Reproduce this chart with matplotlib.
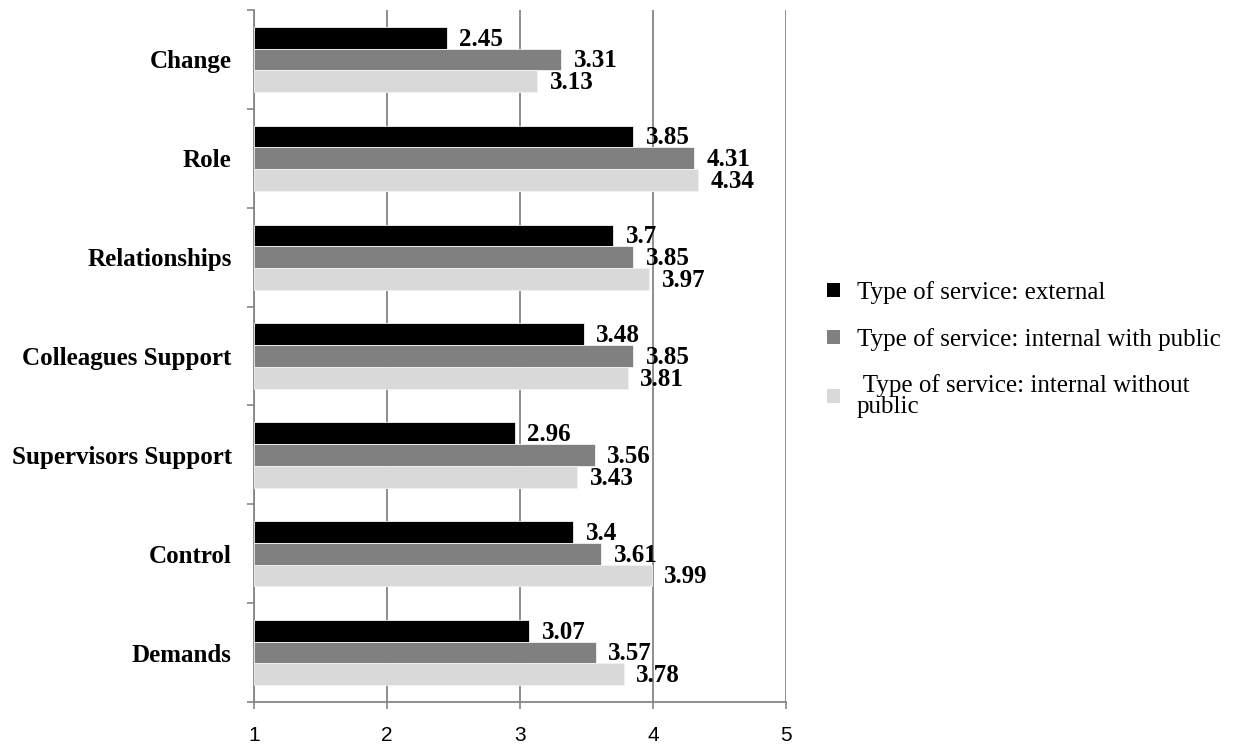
import matplotlib
matplotlib.use("Agg")
from matplotlib import pyplot as plt
from matplotlib.patches import Patch

categories = ["Demands", "Control", "Supervisors Support", "Colleagues Support",
              "Relationships", "Role", "Change"]
external = [3.07, 3.40, 2.96, 3.48, 3.70, 3.85, 2.45]
internal_public = [3.57, 3.61, 3.56, 3.85, 3.85, 4.31, 3.31]
internal_no_public = [3.78, 3.99, 3.43, 3.81, 3.97, 4.34, 3.13]
value_text = {
    "external": ["3.07", "3.4", "2.96", "3.48", "3.7", "3.85", "2.45"],
    "internal_public": ["3.57", "3.61", "3.56", "3.85", "3.85", "4.31", "3.31"],
    "internal_no_public": ["3.78", "3.99", "3.43", "3.81", "3.97", "4.34", "3.13"],
}
series_names = ["Type of service: external",
                "Type of service: internal with public",
                " Type of service: internal without\npublic"]
colors = ["#000000", "#808080", "#d9d9d9"]

serif = "Liberation Serif"
fig = plt.figure(figsize=(12.33, 7.47), dpi=100)
ax = fig.add_axes([0.206, 0.0602, 0.4315, 0.9264])

bar_h = 0.22
offsets = [bar_h, 0, -bar_h]
series = [(external, "external"), (internal_public, "internal_public"),
          (internal_no_public, "internal_no_public")]

pos = list(range(len(categories)))
for (vals, key), off, col in zip(series, offsets, colors):
    ys = [p + off for p in pos]
    # bars start at axis origin 1
    ax.barh(ys, [v - 1 for v in vals], left=1, height=bar_h, color=col,
            edgecolor="#f2f2f2", linewidth=0.6, zorder=3)
    for y, v, t in zip(ys, vals, value_text[key]):
        ax.annotate(t, (v, y), xytext=(9, -1), textcoords="offset points",
                    va="center", ha="left", fontsize=18, fontweight="bold",
                    family=serif, zorder=4)

ax.set_xlim(1, 5)
ax.set_ylim(-0.5, len(categories) - 0.5)
ax.set_xticks([1, 2, 3, 4, 5])
ax.set_xticklabels(["1", "2", "3", "4", "5"], family="Liberation Sans", fontsize=15)
ax.set_yticks(pos)
ax.set_yticklabels(categories, family=serif, fontsize=18, fontweight="bold")
ax.set_yticks([p - 0.5 for p in range(len(categories) + 1)], minor=True)
ax.tick_params(axis="y", which="major", length=0, pad=16)
ax.tick_params(axis="y", which="minor", length=5, width=1.2, color="#868686")
ax.tick_params(axis="x", length=5, width=1.2, color="#868686", pad=12)

ax.grid(axis="x", color="#868686", linewidth=1.3, zorder=0)
for s in ["top", "right"]:
    ax.spines[s].set_visible(False)
for s in ["left", "bottom"]:
    ax.spines[s].set_color("#868686")
    ax.spines[s].set_linewidth(1.3)

handles = [Patch(facecolor=c, edgecolor="none") for c in colors]
leg = fig.legend(handles, series_names, loc="center left", bbox_to_anchor=(0.6525, 0.532),
                 frameon=False, prop={"family": serif, "size": 18},
                 handlelength=0.5, handleheight=0.5, handletextpad=0.7, labelspacing=0.95)
for t in leg.get_texts():
    t.set_linespacing(0.95)

fig.savefig("out.png", dpi=100)
